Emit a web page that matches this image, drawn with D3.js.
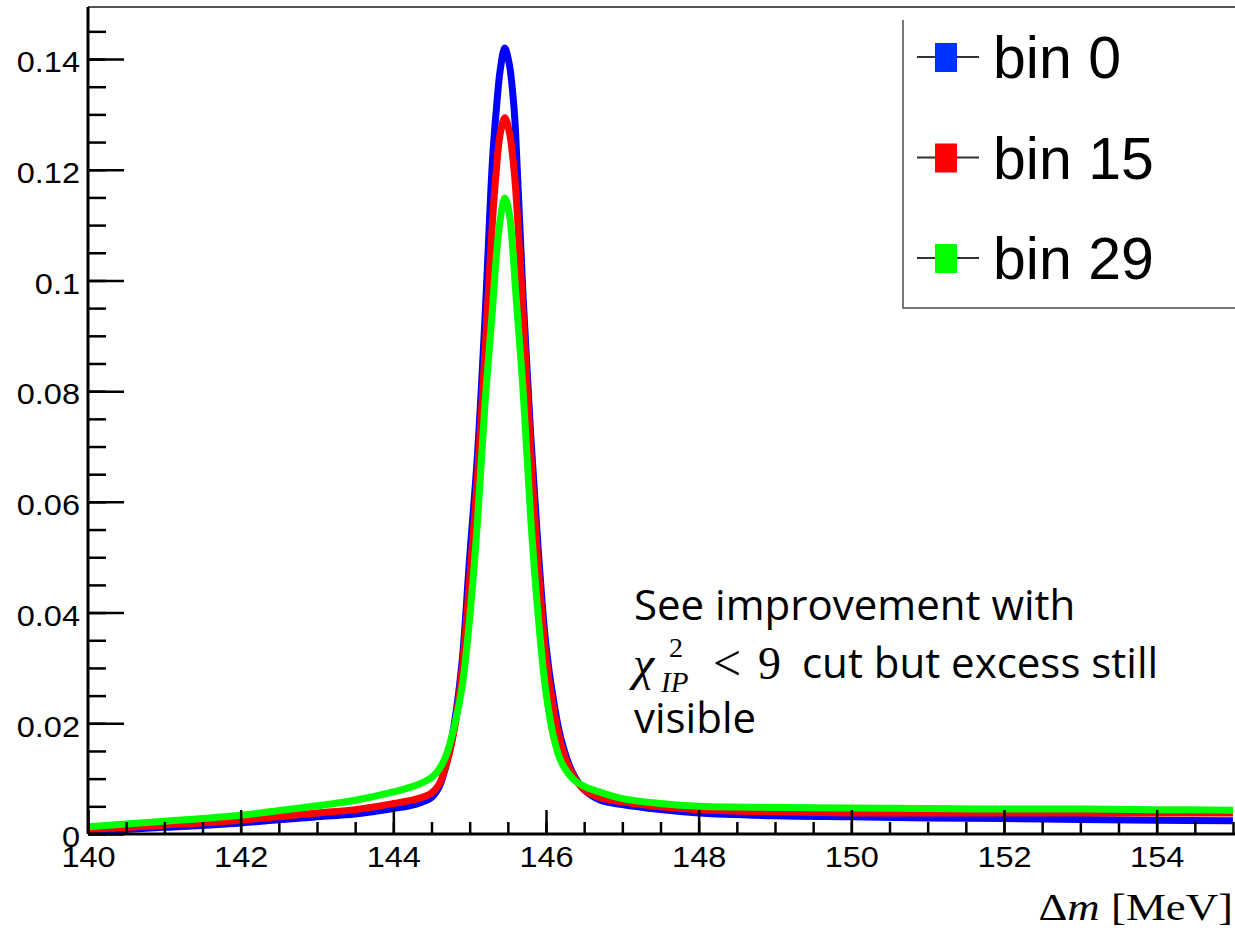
<!DOCTYPE html>
<html>
<head>
<meta charset="utf-8">
<script src="https://cdn.jsdelivr.net/npm/d3@7"></script>
<style>
  body { margin: 0; background: #fff; }
  svg { display: block; }
  .axis text { font-family: "Liberation Sans", Arial, Helvetica, sans-serif; font-size: 29px; fill: #000; }
  .axis path, .axis line { stroke: #000; }
</style>
</head>
<body>
<div id="chart"></div>
<script>
// delta m grid (MeV) and curve heights
const massGrid = [140, 141, 142, 143, 143.5, 144, 144.3, 144.5, 144.6, 144.7,
  144.8, 144.9, 145.0, 145.1, 145.2, 145.3, 145.35, 145.4, 145.46, 145.52,
  145.57, 145.6, 145.7, 145.8, 145.9, 146.0, 146.1, 146.2, 146.35, 146.5,
  146.7, 147, 147.5, 148, 149, 150, 151, 152, 153, 154, 155];

const bin0 = [0.0005, 0.0012, 0.0020, 0.0031, 0.0036, 0.0046, 0.0054, 0.0066, 0.0085, 0.0130,
  0.0200, 0.0310, 0.0500, 0.0680, 0.0930, 0.1220, 0.1310, 0.1380, 0.1420, 0.1390,
  0.1330, 0.1272, 0.0970, 0.0720, 0.0510, 0.0340, 0.0240, 0.0170, 0.0110, 0.0080,
  0.0062, 0.0053, 0.0044, 0.0038, 0.0033, 0.0031, 0.0029, 0.0028, 0.0026, 0.0025, 0.0024];

const bin15 = [0.0008, 0.0016, 0.0025, 0.0038, 0.0044, 0.0055, 0.0063, 0.0074, 0.0090, 0.0128,
  0.0190, 0.0295, 0.0460, 0.0640, 0.0870, 0.1110, 0.1200, 0.1265, 0.1294, 0.1268,
  0.1215, 0.1170, 0.0940, 0.0690, 0.0480, 0.0320, 0.0225, 0.0160, 0.0107, 0.0080,
  0.0066, 0.0058, 0.0049, 0.0044, 0.0040, 0.0038, 0.0038, 0.0038, 0.0038, 0.0038, 0.0038];

const bin29 = [0.0013, 0.0023, 0.0034, 0.0051, 0.0061, 0.0076, 0.0088, 0.0102, 0.0117, 0.0145,
  0.0195, 0.0265, 0.0390, 0.0560, 0.0775, 0.0950, 0.1045, 0.1110, 0.1149, 0.1120,
  0.1045, 0.0985, 0.0800, 0.0570, 0.0390, 0.0255, 0.0175, 0.0130, 0.0100, 0.0086,
  0.0076, 0.0064, 0.0055, 0.0050, 0.0048, 0.0047, 0.0046, 0.0045, 0.0045, 0.0044, 0.0043];

const seriesNames = ["bin 0", "bin 15", "bin 29"];
const seriesColors = ["#0000ff", "#ff0000", "#00ff00"];
const legendColors = ["#0033ff", "#ff0000", "#00ff00"];

const xTicks = [140, 142, 144, 146, 148, 150, 152, 154];
const yTicks = [0, 0.02, 0.04, 0.06, 0.08, 0.1, 0.12, 0.14];

let width = 1235, height = 930;

let svg = d3.select("#chart").append("svg")
    .attr("width", width)
    .attr("height", height);

let x = d3.scaleLinear().domain([140, 155]).range([88, 1233]);
let y = d3.scaleLinear().domain([0, 0.1494]).range([834, 7]);

// widen helvetica-like labels a bit, the root output is stretched
function stretch(sel, k) {
    sel.each(function () {
        let w = this.getComputedTextLength();
        d3.select(this).attr("textLength", w * k).attr("lengthAdjust", "spacingAndGlyphs");
    });
}

// frame top
svg.append("line")
    .attr("x1", 88).attr("x2", width)
    .attr("y1", 7).attr("y2", 7)
    .attr("stroke", "#555").attr("stroke-width", 2);

// curves, drawn bin 0 first so green ends on top
svg.append("clipPath").attr("id", "plotclip")
    .append("rect").attr("x", 88).attr("y", 0).attr("width", width - 88).attr("height", 838);

let line = d3.line()
    .x(function (d) { return x(d[0]); })
    .y(function (d) { return y(d[1]); })
    .curve(d3.curveCatmullRom.alpha(0.5));

let allSeries = [bin0, bin15, bin29];
allSeries.forEach(function (vals, i) {
    let pts = massGrid.map(function (m, j) { return [m, vals[j]]; });
    svg.append("path")
        .datum(pts)
        .attr("clip-path", "url(#plotclip)")
        .attr("fill", "none")
        .attr("stroke", seriesColors[i])
        .attr("stroke-width", 7)
        .attr("stroke-linejoin", "round")
        .attr("d", line);
});

// minor ticks
svg.append("g").attr("class", "axis")
    .attr("transform", "translate(88,0)")
    .call(d3.axisLeft(y).tickValues(d3.range(0, 0.1451, 0.005)).tickFormat("").tickSize(-18).tickSizeOuter(0))
    .call(function (g) { g.select(".domain").remove(); g.selectAll("line").attr("stroke-width", 2.5); });

svg.append("g").attr("class", "axis")
    .attr("transform", "translate(0,834)")
    .call(d3.axisBottom(x).tickValues(d3.range(140, 155.01, 0.5)).tickFormat("").tickSize(-12).tickSizeOuter(0))
    .call(function (g) { g.select(".domain").remove(); g.selectAll("line").attr("stroke-width", 2.5); });

// major axes
let yAxis = svg.append("g").attr("class", "axis")
    .attr("transform", "translate(88,0)")
    .call(d3.axisLeft(y).tickValues(yTicks).tickSize(-36).tickSizeOuter(0).tickPadding(8)
        .tickFormat(function (d) { return d === 0 ? "0" : String(+d.toFixed(2)); }));
yAxis.selectAll("line").attr("stroke-width", 2.5);
yAxis.select(".domain").attr("stroke-width", 3).attr("d", "M0,7V834");
yAxis.selectAll("text").attr("dy", "0.44em").call(stretch, 1.12);

let xAxis = svg.append("g").attr("class", "axis")
    .attr("transform", "translate(0,834)")
    .call(d3.axisBottom(x).tickValues(xTicks).tickSize(-24).tickSizeOuter(0).tickPadding(12));
xAxis.selectAll("line").attr("stroke-width", 2.5);
xAxis.select(".domain").attr("stroke-width", 3).attr("d", "M88,0H" + width);
xAxis.selectAll("text").call(stretch, 1.12);

// legend
let legend = svg.append("g");
legend.append("path")
    .attr("d", "M903,20V308H" + width)
    .attr("fill", "none")
    .attr("stroke", "#777")
    .attr("stroke-width", 2);

seriesNames.forEach(function (name, i) {
    let cy = 57 + i * 100.5;
    legend.append("line")
        .attr("x1", 917).attr("x2", 979)
        .attr("y1", cy).attr("y2", cy)
        .attr("stroke", "#333").attr("stroke-width", 2);
    legend.append("rect")
        .attr("x", 935).attr("y", cy - 14)
        .attr("width", 22).attr("height", 29)
        .attr("fill", legendColors[i]);
    legend.append("text")
        .attr("x", 993).attr("y", cy + 21)
        .attr("font-family", "Liberation Sans, Arial, sans-serif")
        .attr("font-size", 59)
        .text(name);
});

// annotation
let note = svg.append("g")
    .attr("font-family", "Open Sans, sans-serif")
    .attr("font-size", 42)
    .attr("fill", "#000");
note.append("text").attr("x", 634).attr("y", 620).text("See improvement with");
note.append("text").attr("x", 633).attr("y", 680)
    .attr("font-family", "Liberation Serif, serif").attr("font-style", "italic").attr("font-size", 48).text("χ");
note.append("text").attr("x", 669).attr("y", 657)
    .attr("font-family", "Liberation Serif, serif").attr("font-size", 28).text("2");
note.append("text").attr("x", 661).attr("y", 692)
    .attr("font-family", "Liberation Serif, serif").attr("font-style", "italic").attr("font-size", 29).text("IP");
note.append("text").attr("x", 713).attr("y", 680)
    .attr("font-family", "Liberation Serif, serif").attr("font-size", 50).text("<");
note.append("text").attr("x", 758).attr("y", 679)
    .attr("font-family", "Liberation Serif, serif").attr("font-size", 46).text("9");
note.append("text").attr("x", 802).attr("y", 678).text("cut but excess still");
note.append("text").attr("x", 634).attr("y", 733).text("visible");

// x title
let xt = svg.append("text")
    .attr("x", 1233).attr("y", 920)
    .attr("text-anchor", "end")
    .attr("font-family", "Liberation Serif, serif")
    .attr("font-size", 38);
xt.append("tspan").text("Δ");
xt.append("tspan").attr("font-style", "italic").text("m");
xt.append("tspan").text(" [MeV]");
xt.call(stretch, 1.18);
</script>
</body>
</html>
